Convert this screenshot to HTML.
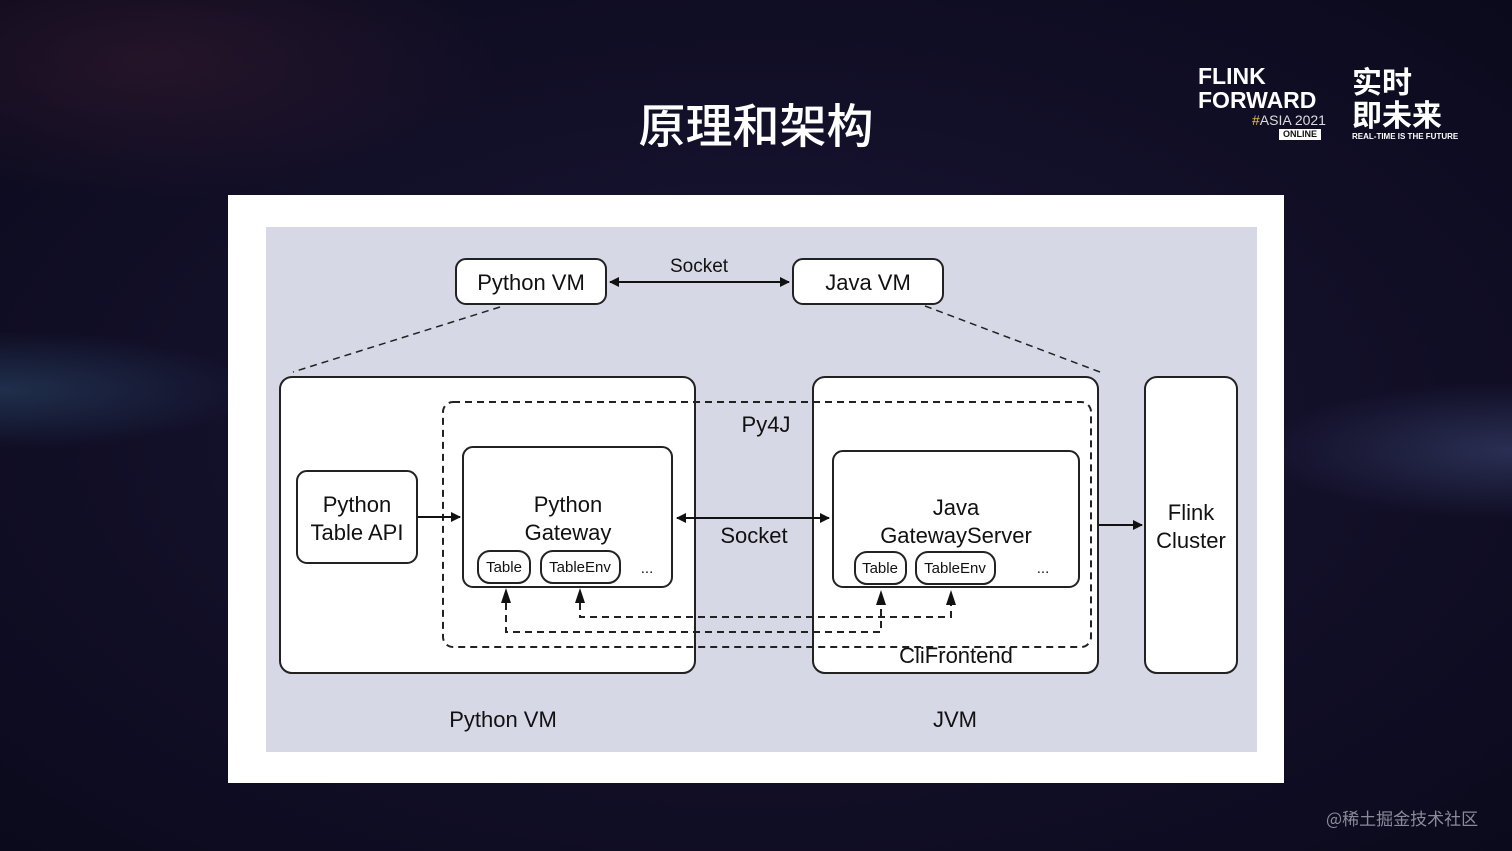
<!DOCTYPE html>
<html><head><meta charset="utf-8"><style>
html,body{margin:0;padding:0;width:1512px;height:851px;overflow:hidden;}
body{background:radial-gradient(ellipse at 50% 50%,#1c1838 0%,#120f28 55%,#0b0a1c 100%);position:relative;font-family:"Liberation Sans","Noto Sans CJK SC",sans-serif;}
.streak{position:absolute;}
</style></head><body>
<div class="streak" style="left:0;top:330px;width:260px;height:120px;background:radial-gradient(ellipse at 0% 50%,rgba(60,110,150,.35),transparent 70%);"></div>
<div class="streak" style="left:1260px;top:380px;width:252px;height:140px;background:radial-gradient(ellipse at 100% 50%,rgba(90,110,170,.35),transparent 70%);"></div>
<div class="streak" style="left:0;top:0;width:500px;height:200px;background:radial-gradient(ellipse at 30% 30%,rgba(90,40,60,.3),transparent 70%);"></div>
<div style="position:absolute;left:0;top:88px;width:1512px;text-align:center;color:#fff;font-size:47px;font-family:'Noto Sans CJK SC',sans-serif;font-weight:500;">原理和架构</div>
<div style="position:absolute;left:1198px;top:64px;color:#fff;font-weight:bold;font-size:23px;line-height:24px;">FLINK<br>FORWARD</div>
<div style="position:absolute;left:1252px;top:112px;color:#ddd;font-size:14px;"><span style="color:#e8c44a">#</span>ASIA 2021</div>
<div style="position:absolute;left:1279px;top:129px;background:#fff;color:#111;font-size:9px;font-weight:bold;padding:0 4px;line-height:11px;">ONLINE</div>
<div style="position:absolute;left:1352px;top:64px;color:#fff;font-size:30px;line-height:33px;font-family:'Noto Sans CJK SC',sans-serif;font-weight:bold;">实时<br>即未来</div>
<div style="position:absolute;left:1352px;top:132px;color:#fff;font-size:8px;font-weight:bold;">REAL-TIME IS THE FUTURE</div>
<div style="position:absolute;left:1326px;top:805px;color:#8a8a9a;font-size:17px;font-family:'Noto Sans CJK SC',sans-serif;">@稀土掘金技术社区</div>
<svg style="position:absolute;left:0;top:0" width="1512" height="851" font-family="Liberation Sans, sans-serif">
<defs><marker id="a" markerWidth="10" markerHeight="10" refX="9" refY="5" orient="auto-start-reverse" markerUnits="userSpaceOnUse"><path d="M0,0 L10,5 L0,10z" fill="#111"/></marker></defs>
<rect x="228" y="195" width="1056" height="588" fill="#fff"/>
<rect x="266" y="227" width="991" height="525" fill="#d6d8e6"/>
<g stroke="#222" stroke-width="2" fill="#fff">
<rect x="456" y="259" width="150" height="45" rx="10"/>
<rect x="793" y="259" width="150" height="45" rx="10"/>
<rect x="280" y="377" width="415" height="296" rx="12"/>
<rect x="813" y="377" width="285" height="296" rx="12"/>
<rect x="1145" y="377" width="92" height="296" rx="12"/>
<rect x="297" y="471" width="120" height="92" rx="10"/>
<rect x="463" y="447" width="209" height="140" rx="10"/>
<rect x="833" y="451" width="246" height="136" rx="10"/>
<rect x="478" y="551" width="52" height="32" rx="12"/>
<rect x="541" y="551" width="79" height="32" rx="12"/>
<rect x="855" y="552" width="51" height="32" rx="12"/>
<rect x="916" y="552" width="79" height="32" rx="12"/>
</g>
<g stroke="#222" stroke-width="2" fill="none" stroke-dasharray="7,5">
<rect x="443" y="402" width="648" height="245" rx="10"/>
<line x1="500" y1="307" x2="293" y2="372" stroke-width="1.5"/>
<line x1="925" y1="306" x2="1100" y2="372" stroke-width="1.5"/>
<polyline points="506,603 506,632 881,632 881,605"/>
<polyline points="580,603 580,617 951,617 951,605"/>
</g>
<g fill="#111"><path d="M501,603 L511,603 L506,588z"/><path d="M575,603 L585,603 L580,588z"/><path d="M876,605 L886,605 L881,590z"/><path d="M946,605 L956,605 L951,590z"/></g>
<g stroke="#111" stroke-width="2">
<line x1="610" y1="282" x2="789" y2="282" marker-start="url(#a)" marker-end="url(#a)"/>
<line x1="677" y1="518" x2="829" y2="518" marker-start="url(#a)" marker-end="url(#a)"/>
<line x1="418" y1="517" x2="460" y2="517" marker-end="url(#a)"/>
<line x1="1099" y1="525" x2="1142" y2="525" marker-end="url(#a)"/>
</g>
<g fill="#111" text-anchor="middle" font-size="22">
<text x="531" y="290">Python VM</text>
<text x="868" y="290">Java VM</text>
<text x="699" y="272" font-size="19">Socket</text>
<text x="766" y="432">Py4J</text>
<text x="754" y="543">Socket</text>
<text x="357" y="512">Python</text><text x="357" y="540">Table API</text>
<text x="568" y="512">Python</text><text x="568" y="540">Gateway</text>
<text x="956" y="515">Java</text><text x="956" y="543">GatewayServer</text>
<text x="1191" y="520">Flink</text><text x="1191" y="548">Cluster</text>
<text x="956" y="663">CliFrontend</text>
<text x="503" y="727">Python VM</text>
<text x="955" y="727">JVM</text>
<g font-size="15"><text x="504" y="572">Table</text><text x="580" y="572">TableEnv</text><text x="880" y="573">Table</text><text x="955" y="573">TableEnv</text><text x="647" y="573">...</text><text x="1043" y="573">...</text></g>
</g>
</svg>
</body></html>
